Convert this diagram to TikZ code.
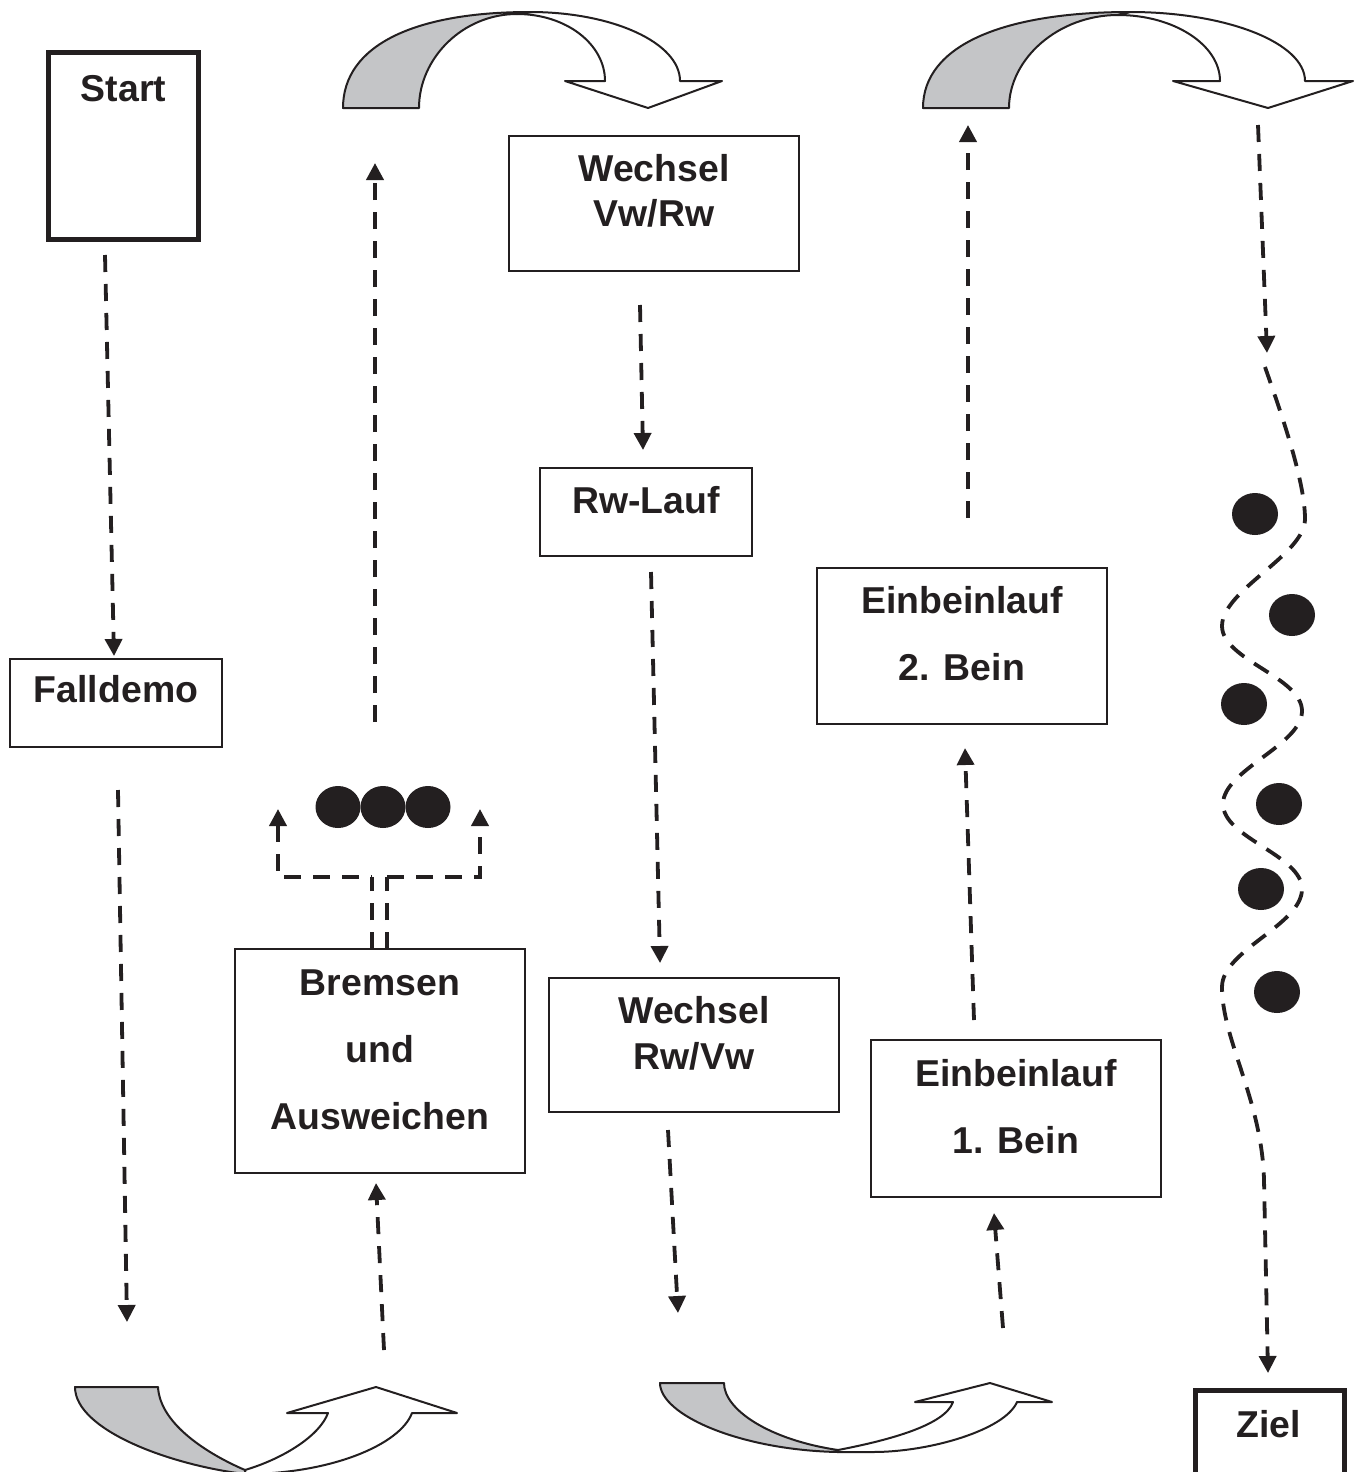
\documentclass[tikz,border=0pt]{standalone}
\usepackage{fontspec}
\setmainfont{Liberation Sans}
\usetikzlibrary{arrows.meta,shapes.geometric}
\definecolor{bandgray}{RGB}{196,197,199}
\definecolor{ink}{RGB}{35,31,32}
\begin{document}
\begin{tikzpicture}[x=0.5pt,y=-0.5pt,
  box/.style={draw=ink,line width=1pt,inner sep=0pt,outer sep=0pt},
  thickbox/.style={draw=ink,line width=2.5pt,inner sep=0pt,outer sep=0pt},
  lbl/.style={inner sep=0pt,anchor=base,text=ink,font=\fontsize{18.7pt}{22pt}\selectfont\bfseries},
  flowline/.style={draw=ink,line width=1.9pt,dash pattern=on 8.5pt off 6pt},
  flow/.style={flowline,-{Triangle[width=8.5pt,length=8.5pt]}},
  dot/.style={ellipse,fill=ink,inner sep=0pt,minimum width=23pt,minimum height=21pt},
  band/.style={draw=ink,line width=1pt,fill=bandgray,line join=round},
  bandwhite/.style={draw=ink,line width=1pt,fill=white,line join=round}]
\useasboundingbox (0,0) rectangle (1361,1472);
\clip (0,0) rectangle (1361,1472);

% ---------- boxes ----------
\node[thickbox,minimum width=75pt,minimum height=93.5pt] (start) at (123.5,146) {};
\node[lbl] (startT) at (123.5,101) {Start};

\node[box,minimum width=106pt,minimum height=44pt] (fall) at (116,703) {};
\node[lbl] (fallT) at (116,702) {Falldemo};

\node[box,minimum width=145pt,minimum height=67.5pt] (wvr) at (654,203.5) {};
\node[lbl] (wvrA) at (654,181) {Wechsel};
\node[lbl] (wvrB) at (654,226) {Vw/Rw};

\node[box,minimum width=106pt,minimum height=44pt] (rwl) at (646,512) {};
\node[lbl] (rwlT) at (646,513) {Rw-Lauf};

\node[box,minimum width=145pt,minimum height=112pt] (brems) at (380,1061) {};
\node[lbl] (bremsA) at (380,995) {Bremsen};
\node[lbl] (bremsB) at (380,1062) {und};
\node[lbl] (bremsC) at (380,1129) {Ausweichen};

\node[box,minimum width=145pt,minimum height=67pt] (wrv) at (694,1045) {};
\node[lbl] (wrvA) at (694,1023) {Wechsel};
\node[lbl] (wrvB) at (694,1069) {Rw/Vw};

\node[box,minimum width=145pt,minimum height=78pt] (ebz) at (962,646) {};
\node[lbl] (ebzA) at (962,613) {Einbeinlauf};
\node[lbl] (ebzB) at (962,680) {2. Bein};

\node[box,minimum width=145pt,minimum height=78.5pt] (ebe) at (1016,1118.5) {};
\node[lbl] (ebeA) at (1016,1086) {Einbeinlauf};
\node[lbl] (ebeB) at (1016,1153) {1. Bein};

\node[thickbox,minimum width=74.5pt,minimum height=70pt] (ziel) at (1270,1460) {};
\node[lbl] (zielT) at (1268.5,1437) {Ziel};

% ---------- curved arrows ----------
% top left
\draw[bandwhite] (517,14) .. controls (566,14) and (605,44) .. (605,81) -- (565,81) -- (648,108) -- (722,81) -- (680,81) .. controls (680,43) and (613,12) .. (530,12) -- cycle;
\draw[band] (343,108) -- (419,108) .. controls (419,58) and (463,14) .. (517,14) -- (530,12) .. controls (415,12) and (343,45) .. (343,108) -- cycle;
% top right
\draw[bandwhite] (1118,15) .. controls (1174,15) and (1220,45) .. (1220,81) -- (1173,81) -- (1268,108) -- (1353,81) -- (1305,81) .. controls (1305,43) and (1227,12) .. (1130,12) -- cycle;
\draw[band] (923,108) -- (1009,108) .. controls (1009,59) and (1058,15) .. (1118,15) -- (1130,12) .. controls (1004,12) and (923,45) .. (923,108) -- cycle;
% bottom left
\draw[bandwhite] (245,1470) .. controls (285,1458) and (320,1435) .. (328,1413) -- (287,1413) -- (376,1387) -- (457,1413) -- (412,1413) .. controls (400,1445) and (330,1474) .. (245,1474) -- cycle;
\draw[band] (75,1387) -- (158,1387) .. controls (160,1425) and (210,1455) .. (245,1470) -- (245,1474) .. controls (170,1465) and (75,1430) .. (75,1387) -- cycle;
% bottom middle
\draw[bandwhite] (838,1450) .. controls (890,1440) and (945,1425) .. (953,1402) -- (915,1402) -- (990,1383) -- (1052,1402) -- (1017,1402) .. controls (1005,1430) and (930,1452) .. (873,1452) -- (838,1452) -- cycle;
\draw[band] (660,1383) -- (724,1383) .. controls (724,1410) and (770,1440) .. (838,1450) -- (838,1452) .. controls (740,1450) and (660,1415) .. (660,1383) -- cycle;

% ---------- coordinates for connector ends ----------
\coordinate (a1s) at (105,255);  \coordinate (a1e) at (114,656);
\coordinate (a2s) at (118,790);  \coordinate (a2e) at (127,1322);
\coordinate (a3s) at (384,1350); \coordinate (a3e) at (376,1183);
\coordinate (a4s) at (375,722);  \coordinate (a4e) at (375,163);
\coordinate (a5s) at (640,305);  \coordinate (a5e) at (643,450);
\coordinate (a6s) at (651,572);  \coordinate (a6e) at (660,963);
\coordinate (a7s) at (668,1130); \coordinate (a7e) at (678,1313);
\coordinate (a8s) at (1003,1328);\coordinate (a8e) at (994,1213);
\coordinate (a9s) at (974,1020); \coordinate (a9e) at (965,748);
\coordinate (a10s) at (968,518); \coordinate (a10e) at (968,125);
\coordinate (a11s) at (1258,125);\coordinate (a11e) at (1267,353);
\coordinate (w0) at (1265,367);  \coordinate (zielIn) at (1268,1373);

\draw[flow] (a1s) -- (a1e);
\draw[flow] (a2s) -- (a2e);
\draw[flow] (a3s) -- (a3e);
\draw[flow] (a4s) -- (a4e);
\draw[flow] (a5s) -- (a5e);
\draw[flow] (a6s) -- (a6e);
\draw[flow] (a7s) -- (a7e);
\draw[flow] (a8s) -- (a8e);
\draw[flow] (a9s) -- (a9e);
\draw[flow] (a10s) -- (a10e);
\draw[flow] (a11s) -- (a11e);

% ---------- slalom ----------
\draw[flow] (w0) .. controls (1280,410) and (1305,480) .. (1305,519)
  .. controls (1305,555) and (1222,590) .. (1222,626)
  .. controls (1222,660) and (1302,677) .. (1302,711)
  .. controls (1302,745) and (1223,770) .. (1223,804)
  .. controls (1223,838) and (1302,855) .. (1302,889)
  .. controls (1302,925) and (1222,950) .. (1222,987)
  .. controls (1222,1040) and (1262,1100) .. (1264,1180) -- (zielIn);
\node[dot] (d1) at (1255,514) {};
\node[dot] (d2) at (1292,615) {};
\node[dot] (d3) at (1244,704) {};
\node[dot] (d4) at (1279,804) {};
\node[dot] (d5) at (1261,889) {};
\node[dot] (d6) at (1277,992) {};

% ---------- braking branch ----------
\coordinate (bt1) at (372,949); \coordinate (bj1) at (372,877);
\coordinate (bt2) at (387,949); \coordinate (bj2) at (387,877);
\coordinate (brL) at (278,877); \coordinate (brR) at (480,877);
\coordinate (brLt) at (278,809); \coordinate (brRt) at (480,809);
\draw[flowline] (bt1) -- (bj1);
\draw[flowline] (bt2) -- (bj2);
\draw[flowline,{Triangle[width=8.5pt,length=8.5pt]}-] (brLt) -- (brL) -- (bj1);
\draw[flowline,-{Triangle[width=8.5pt,length=8.5pt]}] (bj2) -- (brR) -- (brRt);
\node[dot,minimum width=22.5pt] (b1) at (338,807) {};
\node[dot,minimum width=22.5pt] (b2) at (383,807) {};
\node[dot,minimum width=22.5pt] (b3) at (428,807) {};
\end{tikzpicture}
\end{document}
